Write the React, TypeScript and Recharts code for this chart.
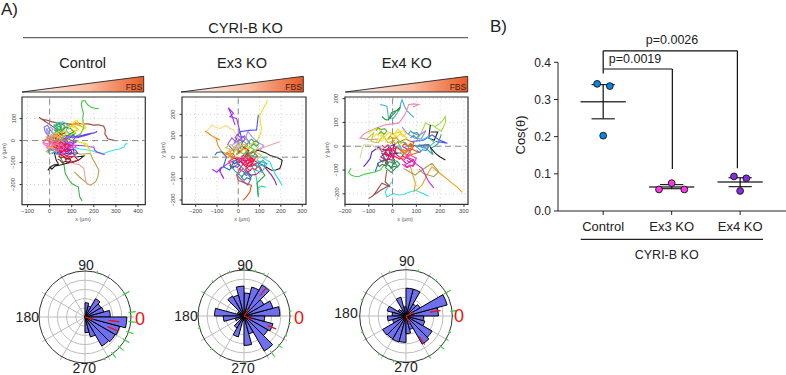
import React from 'react';
import { LineChart, Line, XAxis, YAxis, CartesianGrid, ReferenceLine, ReferenceArea, ScatterChart, Scatter, PieChart, Pie, PolarGrid } from 'recharts';

const FONT = '"Liberation Sans", Arial, sans-serif';

// ---------- trajectories: flat x,y lists in µm ----------
const controlTracks: number[][] = [
  [60,20,20,60,-47,105,-38,98,-30,95,-10,92,10,85,30,82,50,75,75,78,100,72,125,78,150,75,175,76,200,70,222,72,245,65,252,48,250,30,258,18,262,8,280,4,298,0],
  [100,10,140,30,155,60,150,100,153,125,147,145,144,165,147,180,160,182,170,165,185,152,205,147,222,145],
  [60,-10,100,-30,140,-38,185,-44,215,-55,245,-59,268,-50,290,-44,315,-38,336,-29,345,-15,352,-14],
  [30,-5,100,-20,165,-25,182,-28,200,-30,205,-45,215,-52,230,-58,240,-62,250,-62],
  [40,-60,64,-105,68,-130,71,-150,85,-175,100,-195,118,-205,130,-210,133,-235,136,-256,147,-274],
  [60,-40,94,-60,118,-55,140,-62,165,-60,185,-59,195,-85,205,-100,215,-120,223,-135,218,-165,208,-188,185,-203,172,-198,162,-188,140,-170,112,-142],
  [50,-50,80,-75,95,-95,110,-105,135,-110,155,-127,160,-165,167,-195,185,-203],
  [20,-50,30,-90,40,-108,22,-110,10,-115,-8,-135,2,-120,10,-130,25,-115,45,-112,70,-105,100,-98,130,-90,155,-70,120,-75],
  [30,10,60,40,100,30,130,50,100,65,110,85,125,92,135,70,150,80,165,60,145,40],
  [10,15,60,50,90,78,130,70,150,60,118,82,95,62,80,75],
  [-5,-5,40,5,130,20,170,30,200,35,215,40,170,25,120,12],
  [15,-10,80,-5,125,-5,170,-15,185,-59,178,-35,150,-10],
  [25,40,35,60,30,80,60,85,85,70,75,45,100,20,80,0],
  [5,-30,25,-10,-10,25,-15,55,-5,40,-10,5,20,-20],
  [-30,-5,-25,-20,0,-25,-5,-5,30,-10,15,-40,-5,-50,25,-30,45,-5],
  [0,-10,20,25,40,5,25,-20,55,-30,70,-10,60,15,90,-15,75,-40,45,-50,60,-70],
  [40,-25,70,-30,95,-40,80,-60,55,-55,40,-35,70,-15,105,-25,110,-55,90,-65],
  [20,30,40,50,20,70,45,75,55,45,30,30,60,10,45,-15,20,-5],
  [0,0,15,20,-15,15,5,-15,-15,-30,10,-45,35,-30,20,-5,50,15,30,35],
  [60,-75,85,-85,110,-70,130,-90,100,-100,75,-95,70,-75,120,-70],
  [30,-40,50,-15,80,10,110,-5,95,-30,70,-45,45,-25,25,-55,55,-65],
  [10,5,30,20,50,0,70,20,100,25,120,35,95,15,70,-5,40,-10],
  [-10,-40,10,-25,30,-45,5,-60,-15,-50,15,-35,35,-15,5,5],
  [20,-15,45,-30,35,-55,60,-50,75,-25,50,-5,25,10,45,25,70,35],
  [5,10,-20,40,-25,60,-10,70,5,45,25,25,15,5],
  [50,30,70,60,95,55,110,40,85,25,60,20,40,40,55,65],
  [35,-5,70,5,60,-25,90,-35,120,-30,100,-10,75,-20],
  [-5,-15,-30,-10,-20,5,0,10,25,-5,10,-25,-10,-30],
  [0,-5,12,-14,24,-2,10,8,-4,16,8,28,20,16,30,26,42,14,32,4,46,-6,36,-16,50,-24,40,-34,26,-26,14,-36,2,-26],
  [45,-20,58,-12,68,-22,80,-14,90,-26,78,-36,88,-46,74,-52,62,-44,50,-52,40,-42,52,-32,44,-24],
  [60,-20,72,-30,64,-42,76,-50,88,-40,100,-48,92,-62,78,-70,66,-62,54,-70,46,-58,58,-50,50,-40,62,-32],
  [-20,-12,-8,-20,-14,-32,0,-38,12,-30,6,-18,18,-10,8,0,-6,6,-18,0,-28,-8,-20,-20],
  [70,10,82,22,95,14,106,26,118,16,108,4,120,-6,106,-14,92,-6,80,-14,68,-4,76,6],
  [30,30,42,42,54,34,64,46,76,38,70,26,58,20,46,24,36,14,24,20,14,30,26,38],
  [20,60,32,70,44,62,56,74,68,66,62,54,50,50,38,52,28,44,18,50],
  [40,-70,52,-80,64,-72,76,-84,88,-78,96,-90,84,-100,70,-94,58,-102,48,-90,36,-84],
  [10,-60,22,-52,32,-62,44,-56,38,-44,26,-40,14,-46,4,-38,-8,-44,-2,-56],
  [-12,25,-2,38,-12,50,2,62,14,54,8,40,20,30,10,20,-2,14],
  [90,40,104,50,116,42,128,54,118,62,106,70,94,62,84,50],
  [70,-55,84,-62,98,-54,112,-64,126,-58,118,-44,104,-40,90,-46,78,-38],
  [15,-25,28,-34,38,-22,50,-30,60,-18,48,-8,36,-14,24,-6,12,-14],
  [-2,-18,8,-8,20,-22,32,-10,42,-26,54,-14,66,-30,58,-44,44,-38,32,-50,20,-36],
];
const controlColors = ['#a5403c','#3cc63c','#2fe6ee','#a02ff5','#3fae4a','#b3a350','#f49c9c','#222222','#ffe000','#f5a623','#6a3df5','#e8e020','#2fc9c9','#8f8fef','#ff80c0','#ff2020','#e0107a','#1db86a','#ff9020','#d02040','#9030e0','#80d030','#c0c060','#d01060','#7070ff','#20a050','#ff50e0','#ff7070','#ff9a20','#ff1030','#d81070','#ff80d0','#7a40f0','#f5c020','#2fb060','#8a2020','#30a0c0','#a0a0f0','#e8d020','#4040e0','#ff2060','#ff60c0'];

const ex3Tracks: number[][] = [
  [30,20,70,56,85,70,94,87,105,110,109,134,104,165,101,197,112,215,122,236,130,250,137,267],
  [-20,60,8,119,-8,181,-39,189,-23,205,-47,231,-30,195,-15,150],
  [94,197,86,127,50,125,8,119,20,70,10,40],
  [-148,122,-135,135,-125,150,-105,140,-86,134,-70,142,-55,147,-40,135,-23,127,-5,100,10,60],
  [-156,122,-135,108,-117,95,-86,80,-105,88,-95,55,-78,25,-60,18,-45,10,-16,-6,10,0],
  [195,72,160,60,125,48,95,38,62,25,30,10],
  [40,10,94,33,130,20,150,8,172,2,190,-5,206,-14,202,-35,195,-53,176,-60,156,-61,120,-40],
  [60,5,110,0,148,-22,160,-50,172,-77,190,-105,206,-131],
  [50,-20,70,-53,80,-75,86,-100,92,-140,94,-178,90,-145,110,-135,130,-140],
  [60,-10,117,-37,136,-60,156,-84,172,-110,180,-131],
  [23,-201,38,-185,55,-162,58,-145,62,-131,30,-120,0,-108,-8,-84,10,-50],
  [-122,-56,-100,-70,-78,-45,-85,-65,-78,-84,-67,-100,-90,-60,-50,-30,-20,-15],
  [-109,9,-100,22,-78,25,-55,2,-70,-45,-40,-60,-20,-20,0,-5],
  [94,-186,88,-120,125,-85,100,-50,60,-25],
  [-35,-10,-20,30,-5,60,25,75,45,55,20,35,-10,15],
  [10,-20,40,10,75,-15,55,-45,25,-30,5,-55,35,-75,60,-60],
  [-20,30,-50,60,-30,90,-10,70,30,100,50,70,20,40],
  [40,30,70,70,95,50,75,25,110,10,85,-15,50,-5,30,15],
  [0,-30,-25,-50,-45,-20,-20,-5,15,-10,45,-30,65,-5,40,20],
  [60,-40,90,-25,110,-60,85,-80,55,-85,35,-55,65,-30],
  [-40,-35,-15,-65,15,-90,40,-70,15,-45,-10,-25,25,-15],
  [20,5,45,35,15,55,-5,30,25,15,55,15,75,35,50,50],
  [10,-5,35,-20,60,0,40,15,70,25,90,5,65,-20,30,-35],
  [-10,10,15,25,-15,40,-40,25,-25,5,5,-15,-20,-30],
  [100,30,120,55,90,70,65,95,45,120,35,90,55,60],
  [30,-60,60,-100,45,-130,20,-110,-5,-85,25,-50],
  [-60,15,-35,35,-60,45,-35,60,-10,35,-30,10],
  [70,-40,105,-20,135,-30,110,-70,80,-60,95,-35],
  [0,20,25,45,50,30,30,0,60,-15,35,-45,10,-20,-15,-5],
  [20,-10,32,-22,44,-12,56,-24,68,-14,60,-2,48,6,36,0,24,8,12,0],
  [-10,-15,2,-28,14,-18,26,-30,38,-20,30,-8,16,-4,4,-10,-6,0],
  [30,15,44,26,56,16,68,28,80,18,72,6,60,10,48,2,36,-4],
  [-30,-20,-18,-32,-6,-22,6,-36,-4,-48,-20,-42,-32,-50,-40,-36],
  [50,-35,64,-44,76,-34,90,-46,80,-58,66,-52,54,-62,42,-52,36,-40],
  [10,30,22,42,34,32,46,44,38,56,24,60,12,52,0,60,-10,46,0,36],
  [-50,-5,-38,6,-28,-6,-16,6,-26,18,-40,14,-52,22,-60,8],
  [60,50,72,62,84,50,96,62,88,76,74,72,62,84,50,74,56,60],
  [-5,70,8,82,20,70,32,84,24,96,8,94,-4,106,-14,92,-6,80],
  [25,-75,38,-86,50,-74,62,-88,54,-102,40,-96,28,-108,16,-94,22,-84],
  [90,-15,104,-26,116,-14,128,-28,118,-42,104,-36,92,-46,82,-32],
  [40,-5,52,-14,62,-2,74,-12,66,-26,52,-22,42,-32,30,-22,34,-12],
  [-25,40,-14,52,-2,42,8,56,-4,68,-20,64,-30,54],
];
const ex3Colors = ['#f0e020','#a030f0','#4a50f5','#f5d878','#f58a10','#f5a0a0','#222222','#25e0d5','#20d8b0','#a02090','#f05010','#a030ff','#1f6fd0','#2ea040','#70c030','#ff1080','#9060e0','#e8c040','#ff3030','#d02070','#20b0a0','#50d040','#f0308a','#ff9020','#b090f0','#8060d0','#c0d040','#20c0e0','#e01040','#ff1060','#e01090','#50c040','#3060d0','#f03050','#f0c020','#ff7020','#30b070','#9050e0','#2080a0','#25c0b0','#ff2040','#d0a0f0'];

const ex4Tracks: number[][] = [
  [-52,175,-38,172,-24,168,-20,140,-17,118,4,118,18,138,32,161,34,180,40,195,50,168,60,150,90,120],
  [-45,125,-30,112,-17,111,-5,140,10,148,25,150,32,165,-20,110],
  [-60,30,-100,28,-137,34,-120,52,-101,62,-65,78,-31,90,25,97,40,115,55,140,68,175,90,178,110,175,85,165],
  [100,20,122,60,138,97,160,88,180,83,205,100,222,125,222,100,218,90,205,62,165,90],
  [159,90,155,60,152,34,175,25,190,60,160,60],
  [80,20,130,25,166,48,180,38,194,27,212,20,230,13,180,20],
  [205,50,190,10,160,-10,170,-35,130,0],
  [60,0,152,6,165,-12,180,-30,200,-45,222,-58],
  [75,-86,85,-120,96,-156,90,-190,108,-178,124,-163,138,-135,150,-110,166,-86,188,-105,208,-121,230,-138,251,-156,272,-172,293,-194],
  [46,-93,72,-108,96,-121,110,-108,124,-100,145,-85,166,-72,180,-90,194,-107,173,-128,130,-115,110,-95],
  [40,-40,70,-55,96,-72,124,-93,138,-122,152,-149,173,-175],
  [-3,-149,-18,-170,-31,-192,-24,-213,-10,-205,4,-199,25,-205,46,-203,72,-192,96,-185,125,-198,152,-210],
  [-24,-100,-28,-125,-31,-149,-10,-170,-45,-155,-62,-180,-80,-206,-101,-220,-50,-185,-15,-165],
  [-175,-93,-185,-110,-175,-121,-160,-126,-144,-128,-120,-118,-101,-114,-75,-108,-52,-100,-20,-60],
  [-122,-86,-108,-70,-94,-51,-87,-23,-60,-5,-25,-20],
  [-137,-51,-130,-20,-122,6,-85,5,-60,-15,-30,-5],
  [-100,55,-80,68,-59,76,-38,34,-15,60,20,40,-10,10],
  [-73,-107,-60,-70,-30,-55,-45,-30,-10,-40],
  [-110,30,-80,55,-90,20,-60,15,-40,45,-20,15,10,25],
  [-40,-10,-15,-40,-30,-70,-5,-90,10,-60,-15,-25],
  [-15,-20,15,-5,5,-40,30,-55,50,-30,25,-10,0,5],
  [20,15,55,30,90,15,75,-10,110,-25,65,-40,35,-20],
  [10,-30,35,-50,60,-75,85,-55,55,-45,75,-20,40,0],
  [-30,20,-5,50,30,60,60,35,35,10,15,40,-15,30],
  [80,60,110,45,140,65,120,30,90,35,60,55,40,80],
  [-25,-25,-50,-45,-25,-60,-5,-45,-35,-30,-15,-5],
  [0,-55,20,-85,-5,-110,-30,-90,-15,-65,10,-75],
  [45,-60,70,-35,100,-50,85,-80,60,-90,40,-75],
  [-20,-5,10,10,-10,-30,20,-30,-5,-10,-30,-15],
  [15,0,40,-15,20,20,55,15,70,-10,45,-35,20,-25],
  [120,-20,95,5,140,-10,175,15,150,40,110,20],
  [-25,-10,-12,-22,-2,-10,10,-24,0,-38,-14,-32,-26,-42,-34,-26],
  [-30,-30,-18,-42,-6,-32,6,-46,-4,-58,-20,-54,-32,-62,-40,-46],
  [-10,10,2,22,14,10,26,24,16,36,2,32,-10,42,-20,28],
  [-70,20,-58,32,-46,22,-34,34,-44,46,-58,42,-68,52,-80,38],
  [-60,50,-48,62,-36,50,-24,64,-34,74,-48,70,-60,78,-70,64],
  [30,-30,42,-18,54,-30,66,-18,78,-30,70,-44,56,-40,44,-52,32,-44],
  [60,-60,74,-68,86,-56,96,-70,86,-84,72,-78,60,-88,50,-74],
  [20,40,32,52,44,40,56,52,48,66,34,62,22,72,12,58],
  [-55,-55,-42,-66,-30,-54,-20,-68,-30,-82,-44,-76,-56,-86,-64,-70],
  [40,0,52,12,64,0,76,12,88,0,80,-14,66,-10,54,-20,42,-12],
  [-45,5,-32,-6,-20,6,-8,-6,-18,-18,-32,-14,-44,-24,-54,-10],
  [100,-5,114,6,126,-6,138,8,150,-4,140,-18,126,-14,114,-26,102,-18],
  [-5,-65,8,-74,18,-62,30,-76,20,-88,6,-84,-6,-94,-14,-80],
  [75,35,88,46,100,34,112,46,102,58,88,54,76,64,66,50],
];
const ex4Colors = ['#4fa8ee','#1f9a30','#f08ab0','#a0dc40','#222222','#4a50f5','#1fa090','#222222','#f5a010','#a8a050','#c030e0','#35e0e8','#a0504a','#40d040','#5020d0','#e0d8a0','#f0e020','#2070d0','#b0d030','#505050','#ff1010','#f06010','#e010a0','#f5d020','#a080f0','#e02060','#2fa050','#ff30c0','#8020a0','#40c0a0','#30d0d0','#ff1040','#d01080','#f0a020','#ffe030','#60b030','#ff8030','#e020b0','#f5e020','#606060','#f06020','#e03060','#5080f0','#20a060','#30b0a0'];

const controlXTicks = [-100,0,100,200,300,400];
const controlYTicks = [-200,-100,0,100];
const ex3XTicks = [-200,-100,0,100,200,300];
const ex3YTicks = [-200,-100,0,100,200];
const ex4XTicks = [-200,-100,0,100,200,300];
const ex4YTicks = [-200,-100,0,100,200];

// ---------- rose histograms: one radius per 15° bin, counter-clockwise from 0° ----------
const binWidth = 15;
const controlRose = [.55,.42,.40,.46,.25,.31,0,0,0,0,0,0,0,0,0,0,0,0,.34,.45,.73,.76,.78,.91];
const ex3Rose = [.78,.65,.5,.78,.65,.5,.65,.47,.5,.15,.15,.64,.45,.2,.1,.3,.47,.1,.64,.4,.88,.6,.65,.45];
const ex4Rose = [.7,.92,.35,.3,.6,.6,.2,.42,.15,.2,.42,.3,.4,.3,.58,.57,.58,.57,.38,.3,.7,.65,.42,.38];
// red segments: [angle, from, to]
const controlRed = [[-18,0,.19],[-8,.52,.75],[-23,.54,.76]];
const ex3Red = [[54,0,.2],[-23,0,.18],[52,.57,.76],[-22,.56,.75]];
const ex4Red = [[25,0,.18],[-62,0,.16],[9,.53,.75],[-57,.53,.73]];
// green rug ticks: [angle, length]
const controlRug = [[30,1],[6,1],[-6,1],[-19,1],[-30,1],[-41,1],[-53,1],[-65,.3],[75,.3]];
const ex3Rug = [[-53,1],[-40,.7],[6,.3],[-8,.3],[30,.3],[65,.3],[76,.3],[90,.3],[108,.3],[132,.3],[150,.3],[176,.3],[195,.3],[225,.3],[272,.3],[-25,.3]];
const ex4Rug = [[30,1],[6,.8],[-30,.4],[-41,.8],[-60,.4],[75,.3],[110,.3],[160,.3],[200,.3],[235,.3],[255,.3],[262,.3],[-20,.3],[50,.3]];

// ---------- panel B ----------
const groups = ['Control','Ex3 KO','Ex4 KO'];
const controlDots = [{x:.912,y:.342},{x:1.097,y:.336},{x:1.0,y:.2026}];
const ex3Dots = [{x:2,y:.075},{x:1.815,y:.058},{x:2.185,y:.058}];
const ex4Dots = [{x:2.91,y:.093},{x:3.09,y:.088},{x:3,y:.054}];
const means = [.294,.0645,.078];
const semHigh = [.34,.071,.0895];
const semLow = [.248,.06,.0655];
const bracketHigh = .431;
const bracketLow = .382;
const bracketStart = .37;
const bracketEnds = [.113,.115];

function TrackPanel({ left, right, top, bottom, xDomain, yDomain, xTicks, yTicks, tracks, colors }: any) {
  return (
    <div style={{ position: 'absolute', left: left - 20, top: top - 6 }}>
      <LineChart width={right - left + 26} height={bottom - top + 26} margin={{ top: 6, right: 6, bottom: 0, left: 0 }}>
        <CartesianGrid stroke="#d4d4d4" strokeDasharray="1 3" horizontalValues={yTicks} verticalValues={xTicks} />
        <XAxis type="number" dataKey="x" domain={xDomain} ticks={xTicks} allowDataOverflow height={20} axisLine={false} tickSize={2.5}
          interval={0} tickLine={{ stroke: '#333' }} tick={{ fontSize: 5.8, fill: '#444', fontFamily: FONT }} tickFormatter={(v: number) => String(v).replace('-', '\u2212')} />
        <YAxis type="number" dataKey="y" domain={yDomain} ticks={yTicks} allowDataOverflow width={20} axisLine={false} tickSize={2.5} interval={0}
          tickLine={{ stroke: '#333' }}
          tick={(p: any) => (
            <text x={p.x - 2} y={p.y} textAnchor="middle" fontSize={5.8} fill="#444" fontFamily={FONT} transform={`rotate(-90 ${p.x - 2} ${p.y})`}>
              {String(p.payload.value).replace('-', '\u2212')}
            </text>
          )} />
        {tracks.map((t: number[], i: number) => {
          const pts: { x: number; y: number }[] = [];
          for (let k = 0; k < t.length; k += 2) pts.push({ x: t[k], y: t[k + 1] });
          return <Line key={i} data={pts} dataKey="y" type="linear" stroke={colors[i % colors.length]} strokeWidth={1.1} dot={false} activeDot={false} isAnimationActive={false} />;
        })}
        <ReferenceLine x={0} stroke="#8a8a8a" strokeDasharray="6 4" strokeWidth={1} />
        <ReferenceLine y={0} stroke="#8a8a8a" strokeDasharray="6 4" strokeWidth={1} />
        <ReferenceArea x1={xDomain[0]} x2={xDomain[1]} y1={yDomain[0]} y2={yDomain[1]} fill="none" stroke="#333" strokeWidth={1.2} ifOverflow="visible" />
      </LineChart>
    </div>
  );
}

function Rose({ cx, cy, R, bins, red, rug }: any) {
  const half = 62;
  const common = { cx: half, cy: half, dataKey: 'v', isAnimationActive: false, legendType: 'none' as const };
  return (
    <div style={{ position: 'absolute', left: cx - half, top: cy - half }}>
      <PieChart width={half * 2} height={half * 2} margin={{ top: 0, right: 0, bottom: 0, left: 0 }}>
        <PolarGrid cx={half} cy={half} innerRadius={0} outerRadius={R} gridType="circle" stroke="#bdbdbd" strokeWidth={1}
          polarAngles={[0,30,60,90,120,150,180,210,240,270,300,330]} polarRadius={[R*.2,R*.4,R*.6,R*.8]} />
        <PolarGrid cx={half} cy={half} innerRadius={0} outerRadius={R} gridType="circle" stroke="#333" strokeWidth={1} radialLines={false}
          polarAngles={[0]} polarRadius={[R]} />
        {bins.map((r: number, i: number) => r > 0 ? (
          <Pie key={'b' + i} {...common} data={[{ v: 1 }]} startAngle={i * binWidth} endAngle={(i + 1) * binWidth} innerRadius={0} outerRadius={R * r}
            fill="#6f6ff2" stroke="#000" strokeWidth={1} />
        ) : null)}
        {rug.map((g: number[], i: number) => (
          <Pie key={'g' + i} {...common} data={[{ v: 1 }]} startAngle={g[0] - .2} endAngle={g[0] + .2} innerRadius={R - 2 * g[1]} outerRadius={R + 5 * g[1]}
            fill="#3ddc3d" stroke="#3ddc3d" strokeWidth={.9} />
        ))}
        {red.map((g: number[], i: number) => (
          <Pie key={'r' + i} {...common} data={[{ v: 1 }]} startAngle={g[0] - .2} endAngle={g[0] + .2} innerRadius={R * g[1]} outerRadius={R * g[2]}
            fill="#f01010" stroke="#f01010" strokeWidth={1} />
        ))}
      </PieChart>
    </div>
  );
}

function Wedge({ id, x0, x1 }: { id: string; x0: number; x1: number }) {
  return (
    <g>
      <defs>
        <linearGradient id={id} x1="0" x2="1" y1="0" y2="0">
          <stop offset="0" stopColor="#fff6f0" />
          <stop offset=".55" stopColor="#f9bda2" />
          <stop offset="1" stopColor="#ea5c26" />
        </linearGradient>
      </defs>
      <polygon points={`${x0},92 ${x1},76.3 ${x1},92`} fill={`url(#${id})`} stroke="#222" strokeWidth={.9} />
      <text x={x1 - 1.5} y={90} textAnchor="end" fontSize={8.5} fill="#402010" fontFamily={FONT}>FBS</text>
    </g>
  );
}

const T = ({ x, y, s, c = '#222', a = 'middle', r, children }: any) => (
  <text x={x} y={y} fontSize={s} fill={c} textAnchor={a} dominantBaseline="central" fontFamily={FONT} transform={r ? `rotate(${r} ${x} ${y})` : undefined}>{children}</text>
);

function PanelB() {
  const seg = (x1: number, y1: number, x2: number, y2: number, stroke = '#111', w = 1.2, k?: string) => (
    <ReferenceLine key={k} segment={[{ x: x1, y: y1 }, { x: x2, y: y2 }]} stroke={stroke} strokeWidth={w} ifOverflow="visible" />
  );
  const dot = (fill: string) => (p: any) => <circle cx={p.cx} cy={p.cy} r={3.4} fill={fill} stroke="#111" strokeWidth={.9} />;
  return (
    <div style={{ position: 'absolute', left: 500, top: 30 }}>
      <ScatterChart width={286} height={216} margin={{ top: 32.3, right: 0, bottom: 0, left: 0 }}>
        <XAxis type="number" dataKey="x" domain={[.34, 3.67]} ticks={[1, 2, 3]} allowDataOverflow height={35} stroke="#222" tickSize={4} tickMargin={7}
          interval={0} tick={{ fontSize: 13, fill: '#222', fontFamily: FONT }} tickFormatter={(v: number) => groups[v - 1]} />
        <YAxis type="number" dataKey="y" domain={[0, .4]} ticks={[0, .1, .2, .3, .4]} width={58} stroke="#222" tickSize={4} tickMargin={3}
          interval={0} tick={{ fontSize: 12, fill: '#222', fontFamily: FONT }} tickFormatter={(v: number) => v.toFixed(1)} />
        {means.map((m, i) => seg(i + 1 - .33, m, i + 1 + .33, m, '#3c3c3c', 1.5, 'm' + i))}
        {semHigh.map((m, i) => seg(i + 1 - .17, m, i + 1 + .17, m, '#222', 1.2, 'h' + i))}
        {semLow.map((m, i) => seg(i + 1 - .17, m, i + 1 + .17, m, '#222', 1.2, 'l' + i))}
        {semLow.map((m, i) => seg(i + 1, m, i + 1, semHigh[i], '#111', 1.2, 'v' + i))}
        {seg(1, bracketStart, 1, bracketHigh, '#111', 1.2, 'b1')}
        {seg(1, bracketHigh, 2.96, bracketHigh, '#111', 1.2, 'b2')}
        {seg(2.96, bracketHigh, 2.96, bracketEnds[1], '#111', 1.2, 'b3')}
        {seg(1, bracketLow, 2.01, bracketLow, '#111', 1.2, 'b4')}
        {seg(2.01, bracketLow, 2.01, bracketEnds[0], '#111', 1.2, 'b5')}
        <Scatter data={controlDots} shape={dot('#0a84e6')} isAnimationActive={false} />
        <Scatter data={ex3Dots} shape={dot('#ff35e8')} isAnimationActive={false} />
        <Scatter data={ex4Dots} shape={dot('#8a2be2')} isAnimationActive={false} />
      </ScatterChart>
    </div>
  );
}

export default function App() {
  return (
    <div style={{ position: 'absolute', left: 0, top: 0, width: 786, height: 375, overflow: 'hidden', background: '#fff' }}>
      <TrackPanel left={21.7} right={145} top={96.7} bottom={204.3} xDomain={[-125, 433]} yDomain={[-291, 198]} xTicks={controlXTicks} yTicks={controlYTicks} tracks={controlTracks} colors={controlColors} />
      <TrackPanel left={181.7} right={305.7} top={96.7} bottom={204} xDomain={[-264, 318]} yDomain={[-220, 281]} xTicks={ex3XTicks} yTicks={ex3YTicks} tracks={ex3Tracks} colors={ex3Colors} />
      <TrackPanel left={344.7} right={467.7} top={96.7} bottom={204} xDomain={[-200, 317]} yDomain={[-244, 207]} xTicks={ex4XTicks} yTicks={ex4YTicks} tracks={ex4Tracks} colors={ex4Colors} />
      <Rose cx={84.7} cy={316.6} R={46} bins={controlRose} red={controlRed} rug={controlRug} />
      <Rose cx={244.3} cy={316} R={46} bins={ex3Rose} red={ex3Red} rug={ex3Rug} />
      <Rose cx={405.7} cy={316} R={46.3} bins={ex4Rose} red={ex4Red} rug={ex4Rug} />
      <PanelB />
      <svg width={786} height={375} style={{ position: 'absolute', left: 0, top: 0, pointerEvents: 'none' }}>
        <T x={1} y={9} s={17} a="start">A)</T>
        <T x={490} y={26} s={17} a="start">B)</T>
        <T x={245.5} y={28} s={14.6}>CYRI-B KO</T>
        <line x1={23} x2={468} y1={37.7} y2={37.7} stroke="#666" strokeWidth={1.2} />
        <T x={82.7} y={63} s={14.5}>Control</T>
        <T x={242} y={63} s={14.5}>Ex3 KO</T>
        <T x={406.7} y={63} s={14.5}>Ex4 KO</T>
        <Wedge id="w1" x0={22} x1={143.7} />
        <Wedge id="w2" x0={181} x1={303.3} />
        <Wedge id="w3" x0={345.3} x1={467.7} />
        <T x={83} y={218.5} s={5.5} c="#555">x (µm)</T>
        <T x={242} y={218.5} s={5.5} c="#555">x (µm)</T>
        <T x={405} y={218.5} s={5.5} c="#555">x (µm)</T>
        <T x={4} y={151} s={5.5} c="#555" r={-90}>y (µm)</T>
        <T x={163} y={150} s={5.5} c="#555" r={-90}>y (µm)</T>
        <T x={326.7} y={150} s={5.5} c="#555" r={-90}>y (µm)</T>
        <T x={86} y={265} s={14}>90</T>
        <T x={27.3} y={316.7} s={14}>180</T>
        <T x={84.3} y={368} s={14}>270</T>
        <T x={140} y={319} s={18} c="#f01010">0</T>
        <T x={245} y={265} s={14}>90</T>
        <T x={186} y={316} s={14}>180</T>
        <T x={243} y={368} s={14}>270</T>
        <T x={299} y={318} s={18} c="#f01010">0</T>
        <T x={406.7} y={261} s={14}>90</T>
        <T x={346} y={313} s={14}>180</T>
        <T x={406} y={367} s={14}>270</T>
        <T x={459} y={315.7} s={18} c="#f01010">0</T>
        <T x={672} y={40} s={12.5}>p=0.0026</T>
        <T x={635} y={59} s={12.5}>p=0.0019</T>
        <line x1={580.7} x2={763} y1={239.3} y2={239.3} stroke="#222" strokeWidth={1.2} />
        <T x={666.7} y={255} s={12.5}>CYRI-B KO</T>
        <T x={520.7} y={135} s={13} r={-90}>Cos(θ)</T>
      </svg>
    </div>
  );
}
